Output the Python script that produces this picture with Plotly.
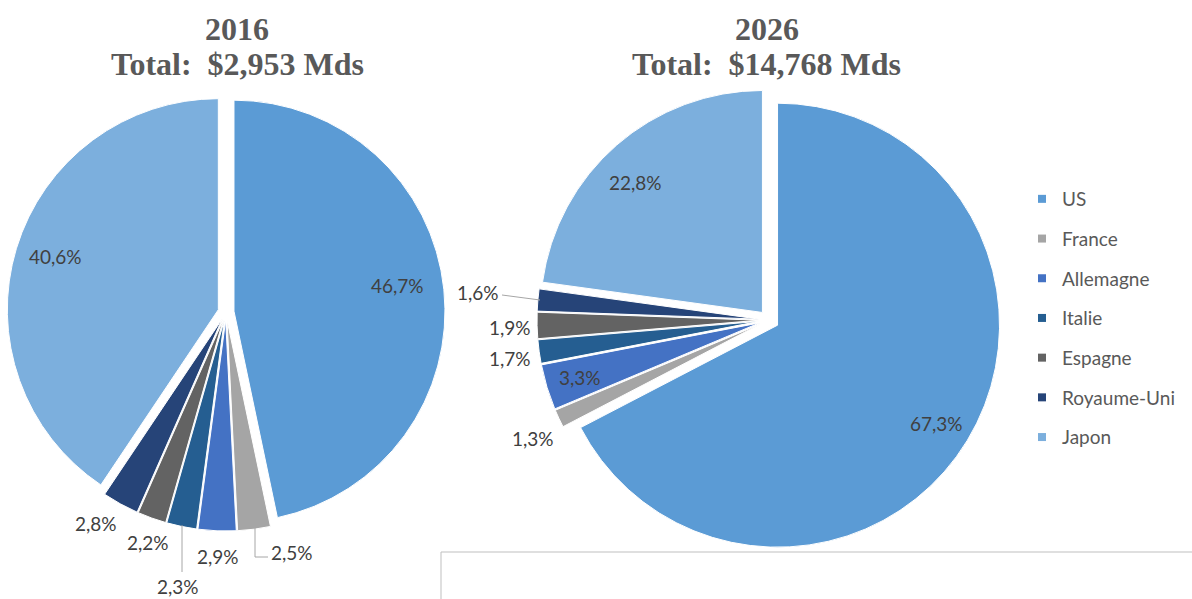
import plotly.graph_objects as go

# ---- data ----
countries = ["US", "France", "Allemagne", "Italie", "Espagne", "Royaume-Uni", "Japon"]
share_2016 = [46.7, 2.5, 2.9, 2.3, 2.2, 2.8, 40.6]
share_2026 = [67.3, 1.3, 3.3, 1.7, 1.9, 1.6, 22.8]
years = ["2016", "2026"]
totals = ["Total:  $2,953 Mds", "Total:  $14,768 Mds"]
colors = ["#5B9BD5", "#A5A5A5", "#4472C4", "#255E91", "#636363", "#264478", "#7CAFDD"]

W, H = 1192, 599

# ---- layout settings (pixel positions) ----
pie_geo = [
    dict(cx=226, cy=312, r=211, pull=0.038),
    dict(cx=769, cy=320, r=222, pull=0.045),
]
label_pos = [
    [(397, 285), (292, 552), (218, 556), (178, 586), (148, 542), (96, 523), (55, 256)],
    [(936, 423), (533, 438), (580, 377), (510, 358), (510, 327), (478, 292), (635, 182)],
]
title_pos = [237, 767]


def fmt(v):
    return f"{v:.1f}%".replace(".", ",")


fig = go.Figure()

for vals, g in zip([share_2016, share_2026], pie_geo):
    half = g["r"] * (1 + g["pull"])
    fig.add_trace(go.Pie(
        labels=countries,
        values=vals,
        sort=False,
        direction="clockwise",
        rotation=0,
        pull=g["pull"],
        marker=dict(colors=colors, line=dict(color="white", width=1)),
        textinfo="none",
        hoverinfo="label+percent",
        showlegend=False,
        domain=dict(
            x=[(g["cx"] - half) / W, (g["cx"] + half) / W],
            y=[(H - g["cy"] - half) / H, (H - g["cy"] + half) / H],
        ),
    ))

# legend entries (one group per country to space them out)
for name, col in zip(countries, colors):
    fig.add_trace(go.Scatter(
        x=[None], y=[None], mode="markers", name=name,
        legendgroup=name,
        marker=dict(symbol="square", size=8, color=col),
        showlegend=True,
    ))

annotations = []
for vals, pos in zip([share_2016, share_2026], label_pos):
    for v, (px, py) in zip(vals, pos):
        annotations.append(dict(
            x=px / W, y=1 - py / H, xref="paper", yref="paper",
            text=fmt(v), showarrow=False,
            font=dict(family="Lato", size=19, color="#404040"),
            xanchor="center", yanchor="middle",
        ))
for yr, tot, px in zip(years, totals, title_pos):
    for txt, py in [(yr, 29), (tot, 64)]:
        annotations.append(dict(
            x=px / W, y=1 - py / H, xref="paper", yref="paper",
            text="<b>" + txt + "</b>", showarrow=False,
            font=dict(family="Liberation Serif", size=32, color="#595959"),
            xanchor="center", yanchor="middle",
        ))

leader_lines = [
    [(182, 525), (182, 572)],
    [(255, 527), (255, 557), (268, 557)],
    [(502, 295), (540, 300)],
]
shapes = []
for pts in leader_lines:
    for (x0, y0), (x1, y1) in zip(pts[:-1], pts[1:]):
        shapes.append(dict(type="line", xref="paper", yref="paper",
                           x0=x0 / W, y0=1 - y0 / H, x1=x1 / W, y1=1 - y1 / H,
                           line=dict(color="#A6A6A6", width=1)))
# frame of a box at the bottom right
shapes.append(dict(type="line", xref="paper", yref="paper",
                   x0=441 / W, y0=1 - 552 / H, x1=1.0, y1=1 - 552 / H,
                   line=dict(color="#BFBFBF", width=1)))
shapes.append(dict(type="line", xref="paper", yref="paper",
                   x0=441 / W, y0=1 - 552 / H, x1=441 / W, y1=0,
                   line=dict(color="#BFBFBF", width=1)))

fig.update_layout(
    width=W, height=H,
    margin=dict(l=0, r=0, t=0, b=0),
    paper_bgcolor="white", plot_bgcolor="white",
    xaxis=dict(visible=False), yaxis=dict(visible=False),
    annotations=annotations,
    shapes=shapes,
    legend=dict(
        x=1022 / W, y=1 - 180 / H, xanchor="left", yanchor="top",
        font=dict(family="Lato", size=19, color="#595959"),
        tracegroupgap=12, traceorder="grouped",
        bgcolor="rgba(0,0,0,0)",
    ),
)

fig.write_html(
    "out.html",
    config={"displayModeBar": False},
    post_script="document.body.style.margin='0';document.body.style.overflow='hidden';",
)
